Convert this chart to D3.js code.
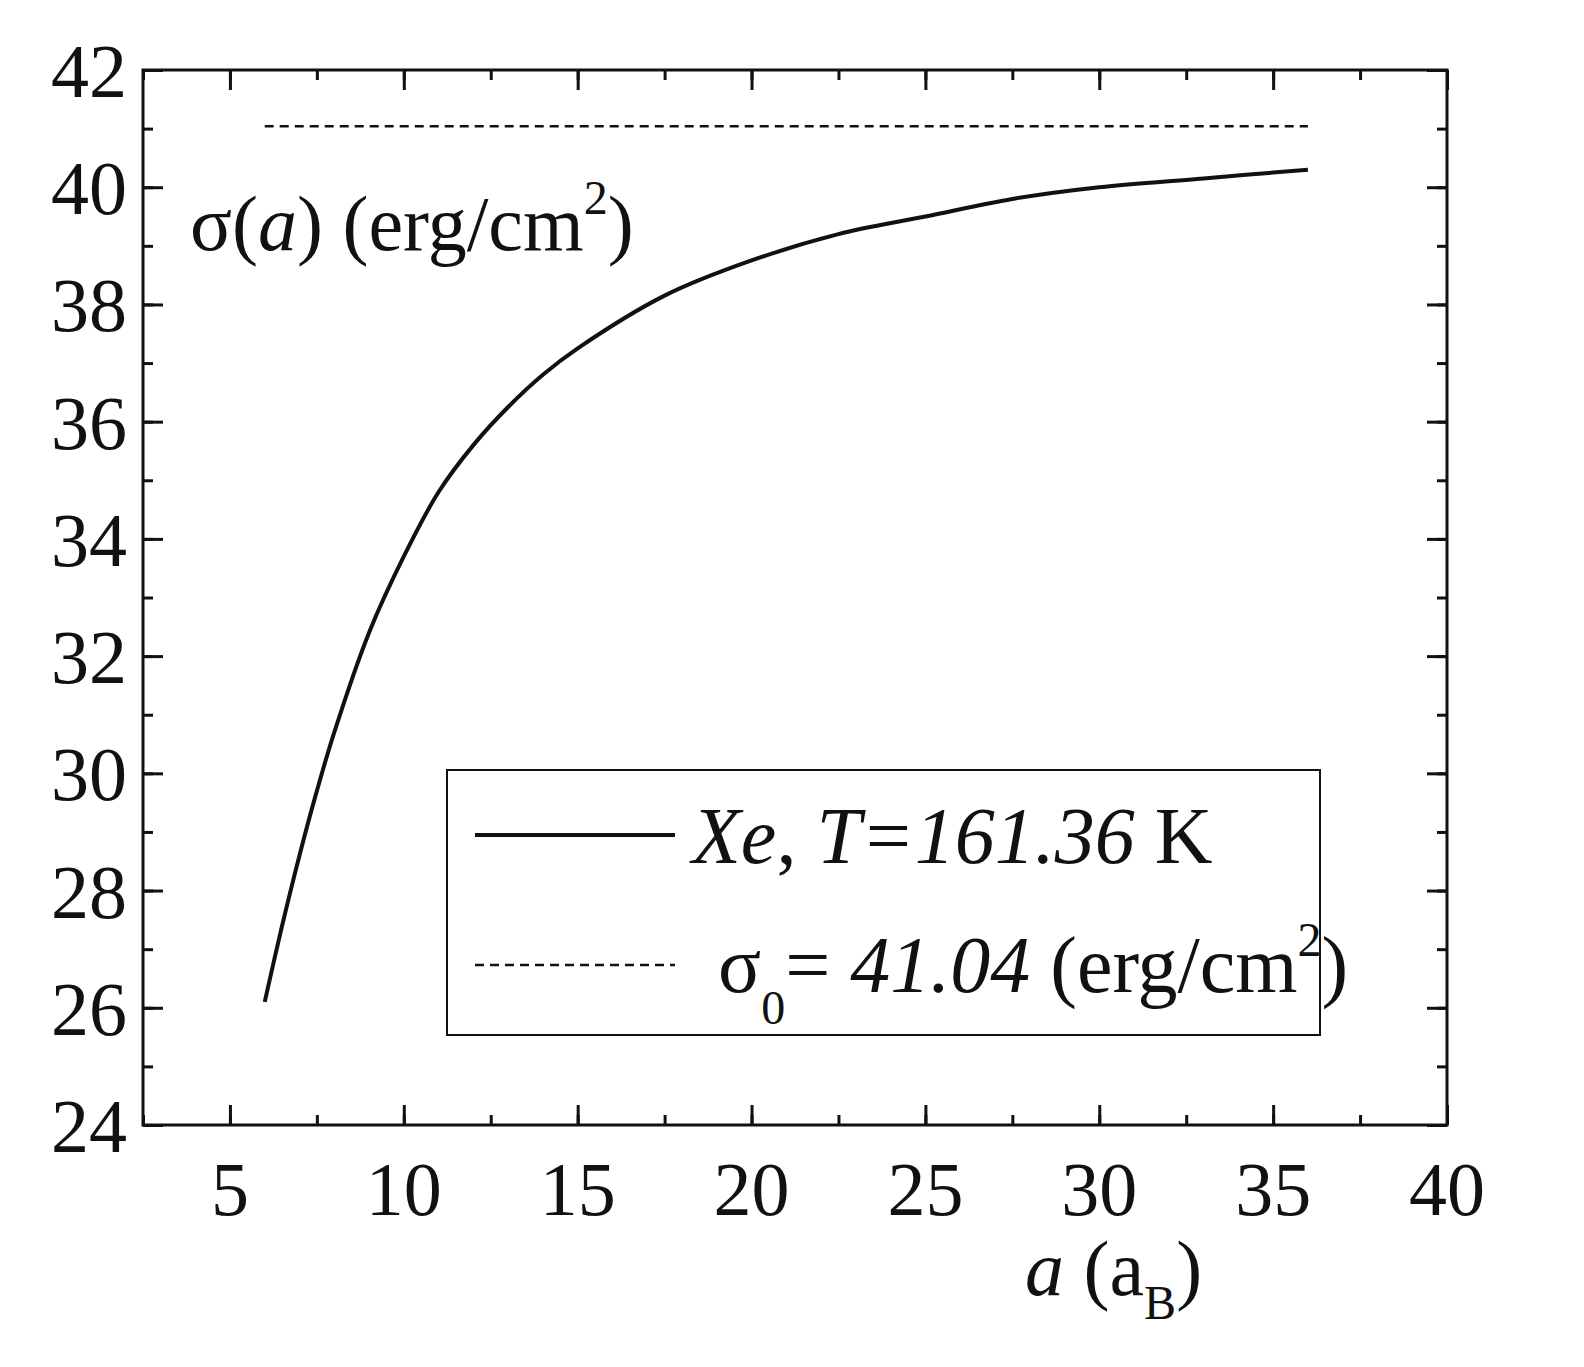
<!DOCTYPE html>
<html><head><meta charset="utf-8">
<script src="https://cdn.jsdelivr.net/npm/d3@7"></script>
<style>body{margin:0;background:#fff}text{font-family:"Liberation Serif","Times New Roman",serif;fill:#111}</style>
</head><body><svg id="c" width="1584" height="1367"></svg>
<script>
// curve
var aVals = [6, 6.5, 7, 7.5, 8, 9, 10, 11, 12, 13, 14, 15, 17.5, 20, 22.5, 25, 27.5, 30, 33, 36];
var sigmaVals = [26.1, 27.4, 28.6, 29.7, 30.7, 32.4, 33.7, 34.8, 35.6, 36.25, 36.8, 37.25, 38.15, 38.75, 39.2, 39.5, 39.8, 40.0, 40.15, 40.3];
var sigma0 = 41.04;
var xTicks = [5, 10, 15, 20, 25, 30, 35, 40];
var yTicks = [24, 26, 28, 30, 32, 34, 36, 38, 40, 42];

var svg = d3.select("#c");
var L = 143, R = 1447, T = 70, B = 1125;
var x = d3.scaleLinear().domain([2.5, 40]).range([L, R]);
var y = d3.scaleLinear().domain([24, 42]).range([B, T]);

function ticks(g, axis) { g.call(axis); g.select(".domain").remove(); g.selectAll("line").attr("stroke", "#111").attr("stroke-width", 3); }
var minorX = d3.range(2.5, 40.1, 2.5), minorY = d3.range(24, 42.1, 1);
ticks(svg.append("g").attr("transform", "translate(0," + B + ")"), d3.axisTop(x).tickValues(minorX).tickSize(10).tickFormat(""));
ticks(svg.append("g").attr("transform", "translate(0," + T + ")"), d3.axisBottom(x).tickValues(minorX).tickSize(10).tickFormat(""));
ticks(svg.append("g").attr("transform", "translate(0," + B + ")"), d3.axisTop(x).tickValues(xTicks).tickSize(20).tickFormat(""));
ticks(svg.append("g").attr("transform", "translate(0," + T + ")"), d3.axisBottom(x).tickValues(xTicks).tickSize(20).tickFormat(""));
ticks(svg.append("g").attr("transform", "translate(" + L + ",0)"), d3.axisRight(y).tickValues(minorY).tickSize(10).tickFormat(""));
ticks(svg.append("g").attr("transform", "translate(" + R + ",0)"), d3.axisLeft(y).tickValues(minorY).tickSize(10).tickFormat(""));
ticks(svg.append("g").attr("transform", "translate(" + L + ",0)"), d3.axisRight(y).tickValues(yTicks).tickSize(20).tickFormat(""));
ticks(svg.append("g").attr("transform", "translate(" + R + ",0)"), d3.axisLeft(y).tickValues(yTicks).tickSize(20).tickFormat(""));

svg.append("rect").attr("x", L).attr("y", T).attr("width", R - L).attr("height", B - T)
  .attr("fill", "none").attr("stroke", "#111").attr("stroke-width", 3);

svg.selectAll(".xl").data(xTicks).enter().append("text").attr("x", d => x(d)).attr("y", 1215)
  .attr("text-anchor", "middle").attr("font-size", 76).text(d => d);
svg.selectAll(".yl").data(yTicks).enter().append("text").attr("x", 127).attr("y", d => y(d) + 27)
  .attr("text-anchor", "end").attr("font-size", 76).text(d => d);

svg.append("line").attr("x1", x(6)).attr("x2", x(36)).attr("y1", y(sigma0)).attr("y2", y(sigma0))
  .attr("stroke", "#111").attr("stroke-width", 2.5).attr("stroke-dasharray", "9,6");
svg.append("path").datum(aVals.map((a, i) => [a, sigmaVals[i]]))
  .attr("d", d3.line().x(d => x(d[0])).y(d => y(d[1])).curve(d3.curveCatmullRom))
  .attr("fill", "none").attr("stroke", "#111").attr("stroke-width", 4);

var t = svg.append("text").attr("x", 190).attr("y", 250).attr("font-size", 78);
t.append("tspan").text("σ(");
t.append("tspan").attr("font-style", "italic").text("a");
t.append("tspan").text(") (erg/cm");
t.append("tspan").attr("font-size", 48).attr("dy", -36).text("2");
t.append("tspan").attr("dy", 36).text(")");

var xl = svg.append("text").attr("x", 1025).attr("y", 1295).attr("font-size", 78);
xl.append("tspan").attr("font-style", "italic").text("a");
xl.append("tspan").text("  (a");
xl.append("tspan").attr("font-size", 48).attr("dy", 24).text("B");
xl.append("tspan").attr("dy", -24).text(")");

svg.append("rect").attr("x", 447).attr("y", 770).attr("width", 873).attr("height", 265)
  .attr("fill", "#fff").attr("stroke", "#111").attr("stroke-width", 2);
svg.append("line").attr("x1", 475).attr("x2", 675).attr("y1", 835).attr("y2", 835).attr("stroke", "#111").attr("stroke-width", 4);
var l1 = svg.append("text").attr("x", 692).attr("y", 863).attr("font-size", 80);
l1.append("tspan").attr("font-style", "italic").text("Xe");
l1.append("tspan").text(", ");
l1.append("tspan").attr("font-style", "italic").text("T=161.36");
l1.append("tspan").text(" K");
svg.append("line").attr("x1", 475).attr("x2", 675).attr("y1", 965).attr("y2", 965).attr("stroke", "#111").attr("stroke-width", 2.5).attr("stroke-dasharray", "9,6");
var l2 = svg.append("text").attr("x", 718).attr("y", 992).attr("font-size", 80);
l2.append("tspan").text("σ");
l2.append("tspan").attr("font-size", 48).attr("dy", 32).text("0");
l2.append("tspan").attr("dy", -32).text("= ");
l2.append("tspan").attr("font-style", "italic").text("41.04");
l2.append("tspan").text(" (erg/cm");
l2.append("tspan").attr("font-size", 48).attr("dy", -36).text("2");
l2.append("tspan").attr("dy", 36).text(")");
</script></body></html>
